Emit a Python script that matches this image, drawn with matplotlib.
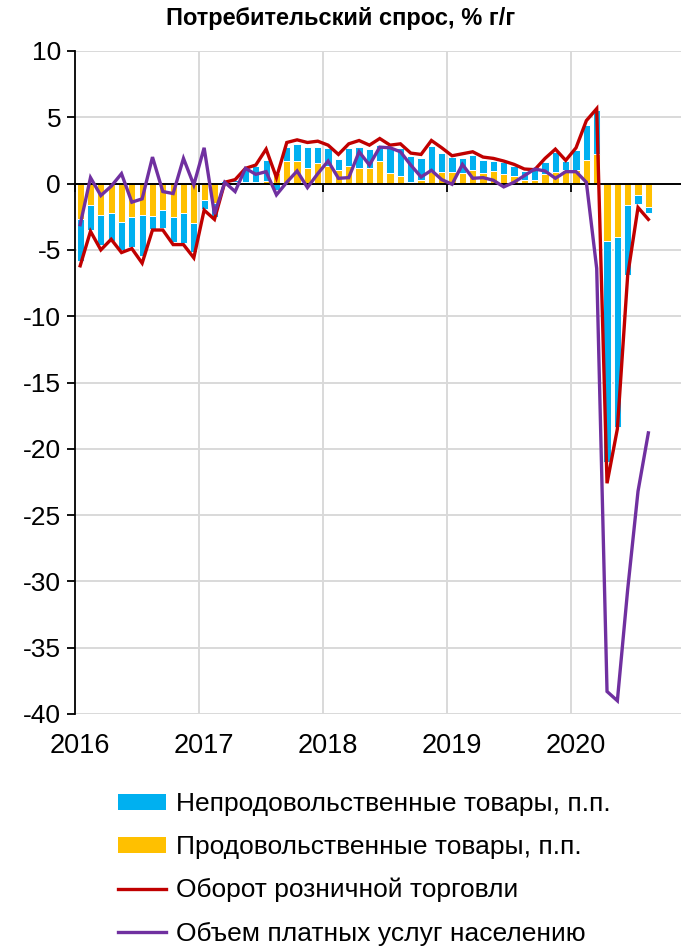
import matplotlib
matplotlib.use("Agg")
import matplotlib.pyplot as plt
import matplotlib.transforms as mtransforms
from matplotlib.patches import Patch
from matplotlib.lines import Line2D
import numpy as np

plt.rcParams['font.family'] = ['Liberation Sans', 'DejaVu Sans']
plt.rcParams['axes.unicode_minus'] = False

years = ["2016", "2017", "2018", "2019", "2020"]

food = [-2.7, -1.6, -2.4, -2.25, -2.9, -2.5, -2.4, -2.45, -2.0, -2.5, -2.25, -2.95,
        -1.2, -1.5, 0.0, 0.1, 0.15, 0.1, 0.2, 0.8, 1.7, 1.7, 1.2, 1.55,
        1.3, 1.0, 1.3, 1.15, 1.15, 1.7, 0.8, 0.55, 0.1, 0.25, 0.85, 0.85,
        0.9, 0.8, 1.05, 0.8, 0.95, 0.75, 0.55, 0.25, 0.3, 0.75, 0.85, 1.0,
        1.05, 1.75, 2.2, -4.3, -4.05, -1.6, -0.85, -1.8]

nonfood = [-3.1, -1.9, -2.2, -2.1, -2.1, -2.3, -3.05, -0.95, -1.35, -1.9, -2.2, -2.2,
           -0.7, -1.0, 0.2, 0.2, 0.95, 1.2, 1.6, -0.45, 1.05, 1.25, 1.55, 1.2,
           1.4, 0.85, 1.35, 1.6, 1.45, 1.2, 1.9, 2.1, 2.0, 1.7, 1.95, 1.45,
           1.1, 1.1, 1.1, 0.95, 0.75, 0.85, 0.8, 0.7, 0.7, 0.9, 1.5, 0.7,
           1.45, 2.7, 3.35, -16.7, -14.3, -5.3, -0.7, -0.45]

retail = [-6.2, -3.6, -5.0, -4.2, -5.2, -4.9, -6.0, -3.5, -3.5, -4.6, -4.6, -5.6,
          -2.0, -2.7, 0.1, 0.3, 1.15, 1.4, 2.6, 0.45, 3.1, 3.3, 3.1, 3.2,
          2.9, 2.2, 3.0, 3.25, 2.9, 3.4, 2.9, 3.0, 2.3, 2.2, 3.25, 2.7,
          2.1, 2.25, 2.4, 2.0, 1.9, 1.7, 1.45, 1.1, 1.05, 1.9, 2.6, 1.75,
          2.7, 4.75, 5.65, -22.6, -18.5, -6.9, -1.8, -2.7]

services = [-3.1, 0.45, -0.9, -0.2, 0.75, -1.4, -1.15, 2.0, -0.6, -0.75, 1.9, -0.1,
            2.7, -2.3, 0.1, -0.6, 1.15, 0.7, 0.9, -0.85, 0.1, 0.95, -0.3, 0.75,
            1.7, 0.4, 0.45, 2.4, 1.4, 2.75, 2.7, 2.4, 1.4, 0.5, 1.0, 0.3,
            -0.05, 1.45, 0.4, 0.45, 0.25, -0.25, 0.1, 0.6, 1.1, 0.95, 0.4, 0.9,
            0.9, 0.1, -6.4, -38.3, -39.0, -30.6, -23.2, -18.8]

labels = ["Непродовольственные товары, п.п.", "Продовольственные товары, п.п.",
          "Оборот розничной торговли", "Объем платных услуг населению"]
title = "Потребительский спрос, % г/г"

BLUE = "#00B0F0"
YELLOW = "#FFC000"
RED = "#C00000"
PURPLE = "#7030A0"
GRID = "#D9D9D9"

W, H = 681, 948
fig = plt.figure(figsize=(W / 100, H / 100), dpi=100)
ax = fig.add_axes([75 / W, 1 - 714 / H, 606 / W, (714 - 51) / H])

n = len(food)
x = np.arange(n)
food_a = np.array(food)
nonfood_a = np.array(nonfood)
bottom_nf = np.where(np.sign(nonfood_a) == np.sign(food_a), food_a, 0.0)

ax.bar(x, food_a, width=0.7, color=YELLOW, edgecolor="white", linewidth=0.7, zorder=2)
ax.bar(x, nonfood_a, bottom=bottom_nf, width=0.7, color=BLUE, edgecolor="white", linewidth=0.7, zorder=2)
ax.plot(x, retail, color=RED, lw=2.4, zorder=4, solid_joinstyle="miter")
ax.plot(x, services, color=PURPLE, lw=2.4, zorder=5, solid_joinstyle="miter")

ax.set_ylim(-40, 10)
ax.set_xlim(-0.5, 58.16)
ax.set_yticks(np.arange(-40, 11, 5))
ax.yaxis.grid(True, color=GRID, lw=1.4, zorder=0)
ax.set_axisbelow(True)

boundaries = [11.5, 23.5, 35.5, 47.5]
for b in boundaries:
    ax.axvline(b, color=GRID, lw=1.4, zorder=0)

for s in ["top", "right"]:
    ax.spines[s].set_visible(False)
ax.spines["left"].set_color("black")
ax.spines["left"].set_linewidth(1.3)
ax.spines["bottom"].set_position(("data", 0))
ax.spines["bottom"].set_color("black")
ax.spines["bottom"].set_linewidth(1.4)
ax.spines["bottom"].set_zorder(3)

ax.set_xticks([-0.5] + boundaries)
ax.set_xticklabels([])
ax.tick_params(axis="x", direction="out", length=6, width=1.3, color="black")
ax.tick_params(axis="y", direction="out", length=6, width=1.3, color="black",
               labelsize=19, pad=4)

trans = mtransforms.blended_transform_factory(ax.transData, ax.transAxes)
for i, yl in enumerate(years):
    ax.text(12 * i, -0.049, yl, transform=trans, ha="center", va="center", fontsize=19.5)

fig.text(0.5, 1 - 19 / H, title, ha="center", va="center", fontsize=17, fontweight="bold")

handles = [Patch(facecolor=BLUE), Patch(facecolor=YELLOW),
           Line2D([], [], color=RED, lw=2.4), Line2D([], [], color=PURPLE, lw=2.4)]
fig.legend(handles, labels, loc="upper left", bbox_to_anchor=(118 / W, 1 - 792 / H),
           frameon=False, fontsize=19, handlelength=1.8, handleheight=0.55,
           handletextpad=0.38, labelspacing=0.72, borderaxespad=0, borderpad=0)

fig.savefig("out.png", dpi=100)
